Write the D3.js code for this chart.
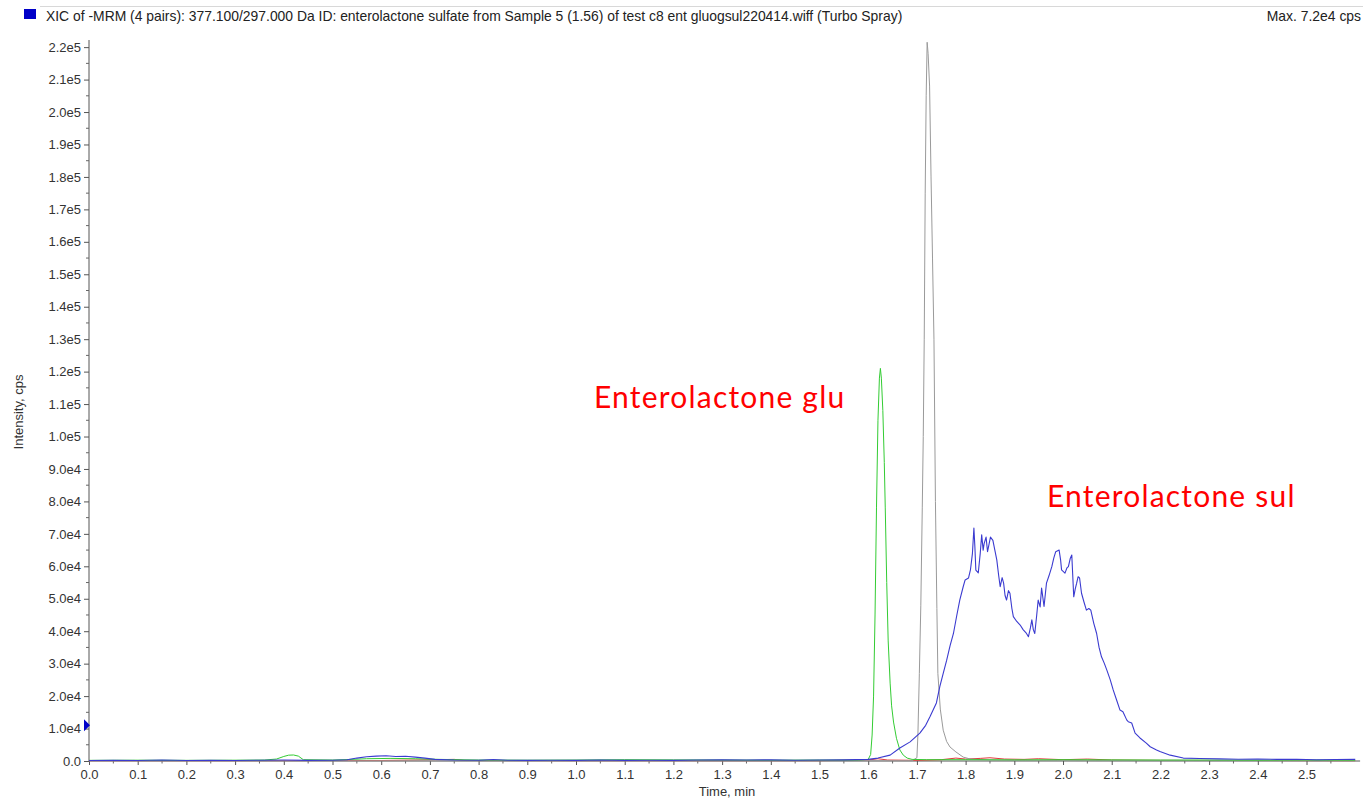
<!DOCTYPE html>
<html>
<head>
<meta charset="utf-8">
<script src="https://cdn.jsdelivr.net/npm/d3@7"></script>
<style>
  html, body { margin: 0; padding: 0; background: #fff; }
  svg { display: block; }
</style>
</head>
<body>
<svg id="chart" width="1363" height="799"></svg>
<script>
// XIC traces, [time (min), intensity (cps)]
const sulfateTrace = [
  [0.00,150],[0.05,250],[0.10,150],[0.15,300],[0.20,150],[0.25,200],[0.30,150],[0.35,250],[0.40,300],[0.45,200],
  [0.50,250],[0.53,400],[0.55,900],[0.57,1300],[0.59,1500],[0.61,1600],[0.63,1400],[0.65,1450],[0.67,1200],[0.69,900],
  [0.71,500],[0.75,300],[0.80,250],[0.83,450],[0.86,250],[0.90,200],[0.95,250],[1.00,200],[1.05,300],[1.10,200],
  [1.15,250],[1.20,200],[1.25,300],[1.30,400],[1.35,300],[1.40,350],[1.45,250],[1.50,300],[1.55,350],[1.60,500],
  [1.62,900],[1.645,1800],[1.665,4000],[1.686,5900],[1.706,8600],[1.718,11000],[1.727,13700],[1.740,17900],[1.747,22900],[1.754,27000],
  [1.761,31000],[1.768,35500],[1.775,39300],[1.782,45000],[1.788,49600],[1.795,53700],[1.799,55800],[1.806,56400],[1.810,59000],[1.814,64000],
  [1.817,71800],[1.819,66000],[1.821,58800],[1.826,58000],[1.830,64000],[1.833,69700],[1.836,65000],[1.838,67000],[1.842,69000],[1.845,64500],
  [1.847,66000],[1.851,69000],[1.856,68000],[1.860,65000],[1.864,62000],[1.868,57000],[1.871,53700],[1.875,56500],[1.878,54800],[1.881,51000],
  [1.884,49600],[1.888,52500],[1.891,51700],[1.895,47000],[1.898,44500],[1.905,43000],[1.912,41900],[1.918,40500],[1.925,39300],[1.929,38300],
  [1.933,41000],[1.936,43500],[1.939,40500],[1.942,39300],[1.946,45000],[1.949,49600],[1.953,47500],[1.956,53300],[1.961,47600],[1.966,54800],
  [1.971,57000],[1.977,59900],[1.981,62500],[1.985,64500],[1.992,65000],[1.995,62000],[1.997,58900],[2.004,57900],[2.008,59500],[2.011,59900],
  [2.015,62500],[2.018,63500],[2.022,50600],[2.025,53000],[2.028,54800],[2.031,56800],[2.034,56400],[2.038,51700],[2.043,49000],[2.048,46500],
  [2.053,47000],[2.057,46500],[2.063,42500],[2.069,39300],[2.074,35000],[2.079,32100],[2.085,30000],[2.090,28000],[2.097,25000],[2.103,21900],
  [2.110,18800],[2.117,15700],[2.123,15200],[2.131,12600],[2.134,12100],[2.141,11700],[2.148,8600],[2.158,7100],[2.171,5500],[2.179,4400],
  [2.192,3400],[2.199,2900],[2.220,1800],[2.247,900],[2.28,750],[2.32,650],[2.36,550],[2.40,600],[2.44,500],[2.48,550],
  [2.52,400],[2.56,450],[2.60,500]
];

const glucuronideTrace = [
  [0.00,200],[0.10,250],[0.20,200],[0.30,250],[0.36,300],[0.385,600],[0.40,1400],[0.41,1800],[0.42,1850],[0.43,1500],
  [0.44,400],[0.50,300],[0.54,500],[0.57,700],[0.62,800],[0.67,700],[0.72,500],[0.80,300],[0.90,250],[1.00,300],
  [1.10,400],[1.20,350],[1.30,300],[1.40,250],[1.50,300],[1.58,300],[1.600,500],[1.605,2000],[1.608,8000],[1.611,20000],
  [1.614,45000],[1.617,78000],[1.620,105000],[1.623,118000],[1.625,121000],[1.627,118000],[1.630,108000],[1.633,92000],[1.635,78000],[1.638,55000],
  [1.641,37000],[1.645,24000],[1.648,17000],[1.652,12000],[1.658,7000],[1.665,3400],[1.672,1800],[1.680,900],[1.69,500],[1.72,400],
  [1.80,400],[1.90,350],[2.00,400],[2.10,350],[2.20,300],[2.30,300],[2.40,250],[2.50,300],[2.60,250]
];

const greyTrace = [
  [0.00,50],[0.50,50],[1.00,50],[1.50,50],[1.690,100],[1.700,1000],[1.702,8000],[1.705,27000],[1.708,48000],[1.711,78000],
  [1.713,100000],[1.715,130000],[1.717,175000],[1.719,205000],[1.721,221500],[1.723,218000],[1.726,208000],[1.729,180000],[1.732,155000],[1.735,130000],
  [1.738,80000],[1.741,47000],[1.743,27000],[1.748,16000],[1.754,9500],[1.761,6000],[1.768,4300],[1.780,2800],[1.795,1200],[1.810,600],
  [1.85,300],[1.90,200],[2.00,150],[2.60,100]
];

const redTrace = [
  [0.00,100],[0.30,100],[0.60,150],[0.75,500],[0.77,150],[1.00,100],[1.50,100],[1.60,300],[1.62,700],[1.64,300],
  [1.70,200],[1.75,400],[1.78,900],[1.80,600],[1.83,800],[1.85,1000],[1.88,600],[1.92,500],[1.95,700],[2.00,400],
  [2.05,600],[2.10,300],[2.20,200],[2.60,100]
];

const yTickValues = d3.range(0, 220001, 10000);
const yTickLabels = ["0.0","1.0e4","2.0e4","3.0e4","4.0e4","5.0e4","6.0e4","7.0e4","8.0e4","9.0e4","1.0e5",
  "1.1e5","1.2e5","1.3e5","1.4e5","1.5e5","1.6e5","1.7e5","1.8e5","1.9e5","2.0e5","2.1e5","2.2e5"];
const xTickValues = d3.range(0, 26).map(i => i / 10);
const xTickLabels = xTickValues.map(v => v.toFixed(1));

const titleText = "XIC of -MRM (4 pairs): 377.100/297.000 Da ID: enterolactone sulfate from Sample 5 (1.56) of test c8 ent gluogsul220414.wiff (Turbo Spray)";
const maxText = "Max. 7.2e4 cps";
const thresholdValue = 11000;

const annotations = [
  { text: "Enterolactone glu", t: 1.037, v: 108800 },
  { text: "Enterolactone sul", t: 1.967, v: 78300 }
];

// ---- layout ----
const svg = d3.select("#chart");
const x = d3.scaleLinear().domain([0, 2.61]).range([89, 1360.1]);
const y = d3.scaleLinear().domain([0, 222200]).range([761, 40]);

const font = "'Liberation Sans', Arial, sans-serif";

// header
svg.append("line").attr("x1", 40).attr("x2", 1363).attr("y1", 6.5).attr("y2", 6.5)
  .attr("stroke", "#d8d8d8").attr("stroke-width", 1);
svg.append("rect").attr("x", 24).attr("y", 9).attr("width", 12).attr("height", 10).attr("fill", "#0000c8");
svg.append("text").attr("x", 46).attr("y", 20.5).attr("font-family", font).attr("font-size", 13.9)
  .attr("fill", "#222").text(titleText);
svg.append("text").attr("x", 1361).attr("y", 20.5).attr("text-anchor", "end")
  .attr("font-family", font).attr("font-size", 13.9)
  .attr("fill", "#222").text(maxText);

// y axis
const yAxis = d3.axisLeft(y).tickValues(yTickValues).tickSize(5).tickPadding(3)
  .tickFormat((d, i) => yTickLabels[i]);
const gy = svg.append("g").attr("transform", "translate(89,0)").call(yAxis);
gy.select(".domain").attr("stroke", "#555").attr("d", `M0,${y(0)}V${y.range()[1]}`);
gy.selectAll(".tick line").attr("stroke", "#555");
gy.selectAll(".tick text").attr("font-family", font).attr("font-size", 13).attr("fill", "#333");
// y minor ticks
svg.append("g").selectAll("line").data(d3.range(5000, 222000, 10000)).join("line")
  .attr("x1", 86).attr("x2", 89).attr("y1", d => y(d)).attr("y2", d => y(d)).attr("stroke", "#666");

// x axis
const xAxis = d3.axisBottom(x).tickValues(xTickValues).tickSize(4).tickPadding(5)
  .tickFormat((d, i) => xTickLabels[i]);
const gx = svg.append("g").attr("transform", `translate(0,${y(0)})`).call(xAxis);
gx.select(".domain").attr("stroke", "#555").attr("d", `M${x(0)},0H${x.range()[1]}`);
gx.selectAll(".tick line").attr("stroke", "#555");
gx.selectAll(".tick text").attr("font-family", font).attr("font-size", 13).attr("fill", "#333");
svg.append("g").selectAll("line").data(d3.range(0.05, 2.61, 0.1)).join("line")
  .attr("x1", d => x(d)).attr("x2", d => x(d)).attr("y1", y(0)).attr("y2", y(0) + 2.5).attr("stroke", "#666");

// axis titles
svg.append("text").attr("transform", `translate(23,${412}) rotate(-90)`).attr("text-anchor", "middle")
  .attr("font-family", font).attr("font-size", 13).attr("fill", "#333").text("Intensity, cps");
svg.append("text").attr("x", 727).attr("y", 796).attr("text-anchor", "middle")
  .attr("font-family", font).attr("font-size", 13).attr("fill", "#333").text("Time, min");

// traces
const line = d3.line().x(d => x(d[0])).y(d => y(d[1]));
const traces = [
  { data: redTrace, color: "#e03a3a", w: 1 },
  { data: greyTrace, color: "#9a9a9a", w: 1 },
  { data: glucuronideTrace, color: "#33cc33", w: 1 },
  { data: sulfateTrace, color: "#3b3bd0", w: 1.1 }
];
svg.append("g").selectAll("path").data(traces).join("path")
  .attr("d", d => line(d.data)).attr("fill", "none")
  .attr("stroke", d => d.color).attr("stroke-width", d => d.w).attr("stroke-linejoin", "round");

// threshold marker
const ty = y(thresholdValue);
svg.append("path").attr("d", `M84,${ty - 6}L90,${ty}L84,${ty + 6}Z`).attr("fill", "#0000c8");

// peak annotations
svg.append("g").selectAll("text").data(annotations).join("text")
  .attr("x", d => x(d.t)).attr("y", d => y(d.v))
  .attr("font-family", "Lato, 'Noto Sans', sans-serif").attr("font-size", 30)
  .attr("letter-spacing", 1.2)
  .attr("fill", "#ff0000").text(d => d.text);
</script>
</body>
</html>
